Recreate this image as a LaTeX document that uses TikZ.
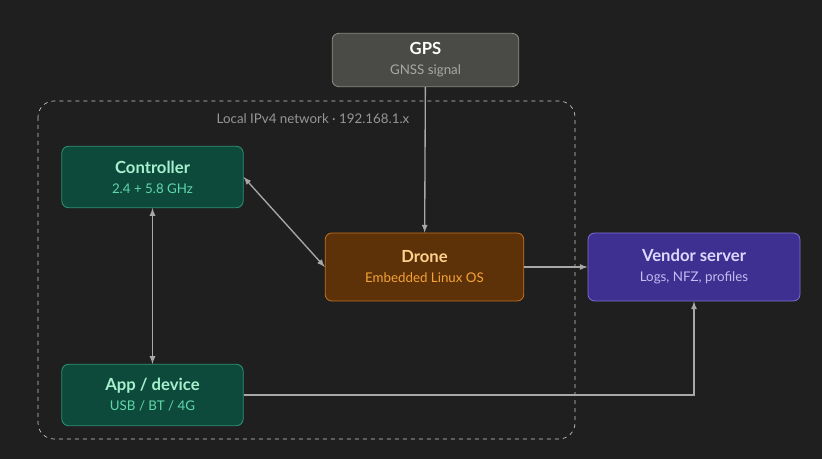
\documentclass[tikz,border=0pt]{standalone}
\usepackage{fontspec}
\setmainfont{Lato}
\usetikzlibrary{positioning}
\definecolor{bg}{HTML}{1F1F1F}
\definecolor{wire}{HTML}{A8A8A8}
\definecolor{gpsfill}{HTML}{4A4A47}
\definecolor{gpsline}{HTML}{8A8A86}
\definecolor{tealfill}{HTML}{0D4A3C}
\definecolor{tealline}{HTML}{2E9474}
\definecolor{tealtitle}{HTML}{A6F0CE}
\definecolor{tealsub}{HTML}{5FD8A9}
\definecolor{brownfill}{HTML}{5E3208}
\definecolor{brownline}{HTML}{C2701E}
\definecolor{browntitle}{HTML}{FFD18C}
\definecolor{brownsub}{HTML}{F5A336}
\definecolor{violetfill}{HTML}{3E3090}
\definecolor{violetline}{HTML}{7E6FD6}
\definecolor{violettitle}{HTML}{DDD8FF}
\definecolor{violetsub}{HTML}{C4BCF2}
\tikzset{
  box/.style={rounded corners=5pt, line width=0.6pt, align=center, inner sep=0pt, font=\fontsize{10}{15}\selectfont},
  gpsbox/.style={box, fill=gpsfill, draw=gpsline},
  tealbox/.style={box, fill=tealfill, draw=tealline},
  brownbox/.style={box, fill=brownfill, draw=brownline},
  violetbox/.style={box, fill=violetfill, draw=violetline},
  link/.style={draw=wire, line width=1pt, ->, >=latex}
}
\newcommand{\boxtext}[4]{{\color{#1}\bfseries\fontsize{12.5}{16}\selectfont #2}\\{\color{#3}#4}}
\begin{document}
\begin{tikzpicture}[x=0.75pt, y=-0.75pt]
  % Fond
  \fill[bg] (0,0) rectangle (822,459);
  \useasboundingbox (0,0) rectangle (822,459);

  % Reseau local
  \draw[draw=wire!60, dashed, rounded corners=12pt, line width=0.5pt] (38,101) rectangle (575,439);
  \node[text=wire!120, font=\fontsize{10}{12}\selectfont] (lan) at (313,119) {Local IPv4 network · 192.168.1.x};

  % Blocs
  \node[gpsbox, minimum width=140pt, minimum height=40pt] (gps) at (425.5,60) {\boxtext{white}{GPS}{wire}{GNSS signal}};
  \node[tealbox, minimum width=136pt, minimum height=46pt] (ctrl) at (152.5,177) {\boxtext{tealtitle}{Controller}{tealsub}{2.4 + 5.8 GHz}};
  \node[brownbox, minimum width=149pt, minimum height=51pt] (drone) at (424.5,267) {\boxtext{browntitle}{Drone}{brownsub}{Embedded Linux OS}};
  \node[violetbox, minimum width=159pt, minimum height=51pt] (vendor) at (694,267) {\boxtext{violettitle}{Vendor server}{violetsub}{Logs, NFZ, profiles}};
  \node[tealbox, minimum width=136pt, minimum height=46pt] (app) at (152.5,395) {\boxtext{tealtitle}{App / device}{tealsub}{USB / BT / 4G}};

  % Liaisons
  \draw[link] (gps) -- (drone);
  \draw[link, <->] (ctrl.east) -- (drone.west);
  \draw[link, <->] (ctrl) -- (app);
  \draw[link] (drone) -- (vendor);
  \draw[link] (app.east) -| (vendor.south);
\end{tikzpicture}
\end{document}
